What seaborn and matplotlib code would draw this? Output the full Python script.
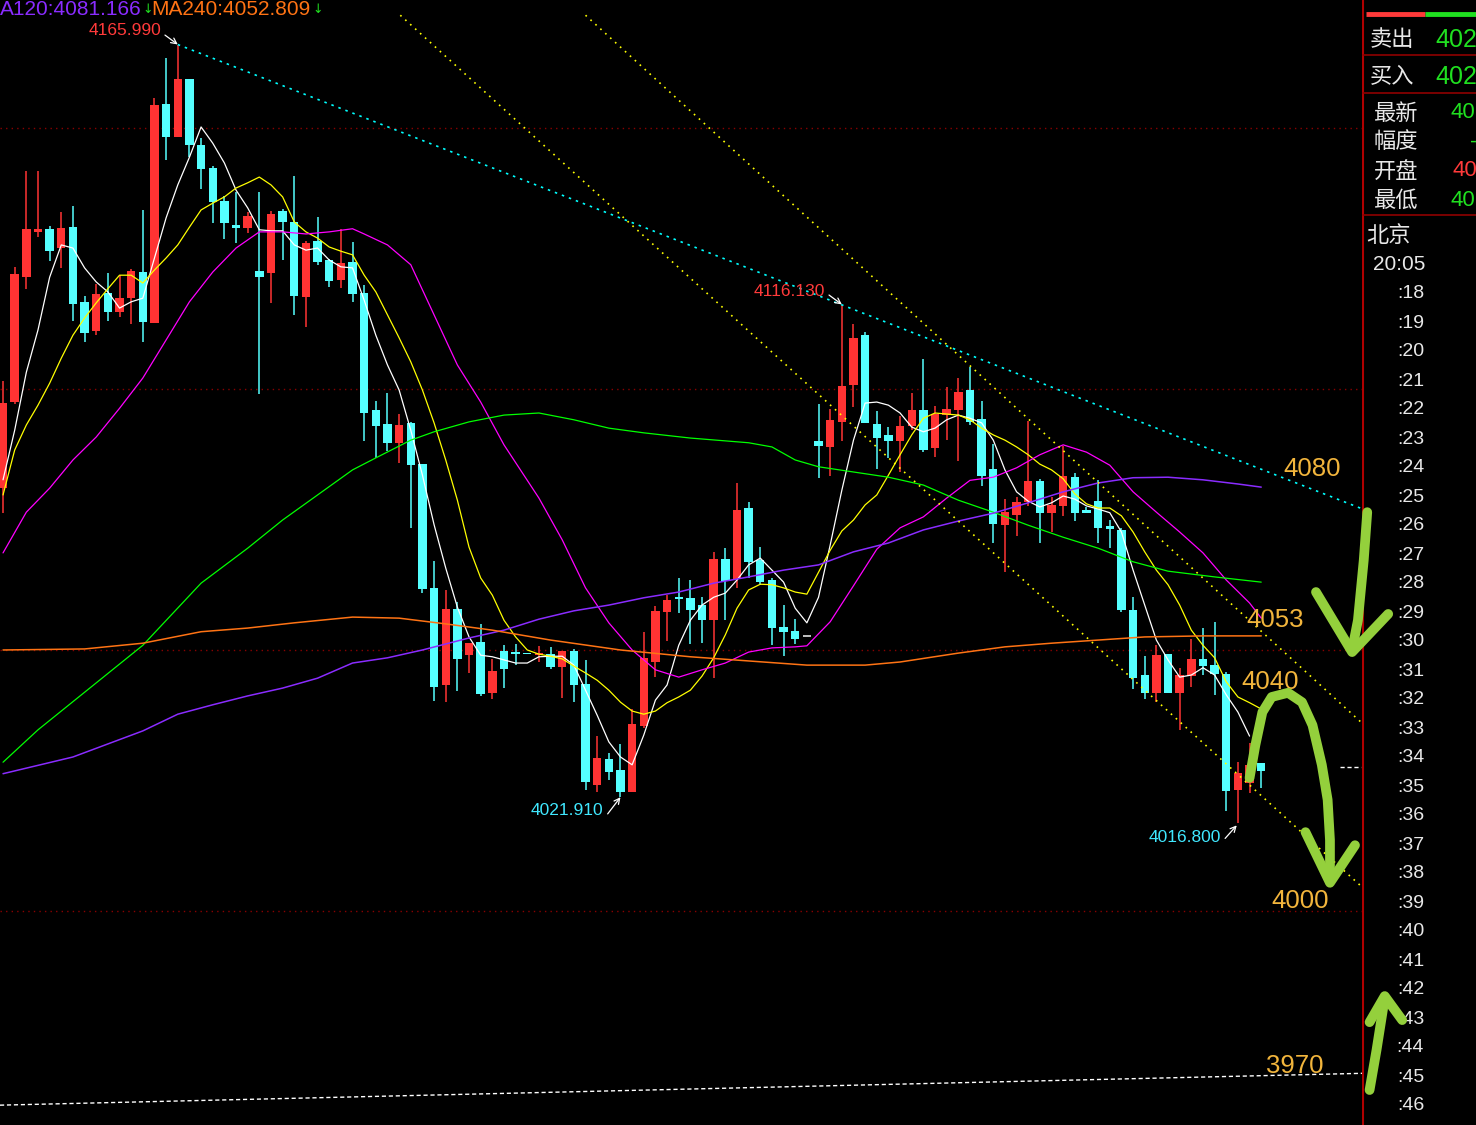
import numpy as np
import pandas as pd
import matplotlib
matplotlib.use("Agg")
import matplotlib.pyplot as plt
import seaborn as sns

sns.set_theme(style="dark", rc={"axes.facecolor": "black", "figure.facecolor": "black"})
plt.rcParams['font.family'] = ['Noto Sans CJK SC', 'DejaVu Sans']

# candle data
opens = [4081.0, 4097.5, 4121.5, 4130.1, 4130.7, 4127.0, 4131.0, 4116.7, 4111.1, 4118.4,
         4114.8, 4117.4, 4122.4, 4112.6, 4154.6, 4148.3, 4159.4, 4146.7, 4142.3, 4136.0,
         4131.4, 4130.8, 4122.6, 4122.2, 4134.1, 4132.0, 4117.6, 4128.4, 4124.7, 4120.9,
         4124.3, 4118.4, 4096.0, 4093.3, 4089.6, 4093.5, 4085.6, 4061.9, 4043.3, 4057.9,
         4049.0, 4051.5, 4041.8, 4049.8, 4049.6, 4049.4, 4049.0, 4049.2, 4046.7, 4049.8,
         4043.5, 4024.1, 4029.1, 4027.0, 4022.8, 4035.4, 4047.7, 4057.3, 4060.1, 4059.9,
         4058.6, 4055.7, 4067.4, 4063.6, 4077.2, 4067.2, 4063.4, 4054.4, 4053.6, 4052.5,
         4090.0, 4088.9, 4093.7, 4100.8, 4110.3, 4093.3, 4091.2, 4090.0, 4092.9, 4096.0,
         4088.7, 4095.0, 4096.0, 4099.8, 4094.3, 4084.7, 4073.9, 4075.9, 4078.3, 4082.4,
         4076.3, 4077.6, 4083.1, 4076.8, 4078.5, 4073.8, 4073.0, 4057.7, 4045.2, 4041.8,
         4049.2, 4041.8, 4045.0, 4048.3, 4047.1, 4045.4, 4023.2, 4024.5, 4028.3]
highs = [4101.5, 4123.4, 4141.8, 4141.8, 4131.2, 4133.9, 4135.1, 4117.8, 4120.1, 4122.2,
         4121.8, 4123.0, 4134.3, 4155.7, 4163.4, 4165.99, 4159.4, 4148.1, 4142.7, 4137.0,
         4137.7, 4133.9, 4137.7, 4134.1, 4134.5, 4140.8, 4128.4, 4132.9, 4124.9, 4130.7,
         4128.2, 4119.9, 4097.7, 4099.2, 4095.2, 4093.7, 4085.6, 4067.0, 4061.5, 4059.2,
         4051.3, 4055.0, 4048.3, 4050.9, 4051.1, 4049.4, 4050.8, 4050.6, 4049.8, 4050.2,
         4048.1, 4033.5, 4030.3, 4032.0, 4038.7, 4053.4, 4058.4, 4060.5, 4063.8, 4063.4,
         4060.1, 4068.8, 4069.5, 4082.0, 4078.4, 4069.7, 4063.8, 4058.6, 4055.9, 4052.5,
         4097.1, 4096.2, 4116.13, 4112.5, 4110.9, 4095.8, 4092.7, 4094.8, 4099.2, 4105.7,
         4096.7, 4100.4, 4102.1, 4104.2, 4097.7, 4089.5, 4078.9, 4079.3, 4093.9, 4082.8,
         4079.3, 4089.1, 4083.9, 4077.4, 4082.6, 4074.9, 4073.4, 4060.1, 4048.8, 4050.9,
         4049.2, 4046.6, 4052.1, 4054.2, 4055.4, 4045.8, 4028.5, 4032.2, 4028.3]
lows = [4076.3, 4097.1, 4119.2, 4129.1, 4124.5, 4123.2, 4113.0, 4109.0, 4110.3, 4113.0,
        4113.8, 4112.5, 4109.0, 4112.6, 4143.9, 4148.3, 4144.4, 4138.3, 4131.8, 4128.7,
        4128.0, 4129.9, 4099.0, 4116.5, 4124.7, 4114.2, 4111.9, 4123.8, 4119.5, 4119.3,
        4116.7, 4090.0, 4086.8, 4088.1, 4085.8, 4073.4, 4060.9, 4040.2, 4040.0, 4042.1,
        4045.6, 4041.2, 4040.6, 4042.7, 4047.1, 4049.2, 4047.7, 4046.4, 4040.8, 4040.0,
        4023.2, 4022.8, 4025.1, 4021.91, 4022.8, 4035.1, 4044.8, 4051.7, 4057.1, 4051.1,
        4051.3, 4044.6, 4055.7, 4061.9, 4063.8, 4062.5, 4050.9, 4048.8, 4051.1, 4052.5,
        4083.0, 4083.3, 4090.0, 4096.5, 4093.5, 4084.7, 4086.8, 4084.1, 4092.1, 4087.9,
        4087.0, 4090.2, 4086.2, 4093.1, 4081.4, 4070.5, 4064.9, 4071.8, 4077.6, 4070.5,
        4072.6, 4075.7, 4074.7, 4076.3, 4070.5, 4069.5, 4057.3, 4042.5, 4040.6, 4040.0,
        4041.8, 4034.7, 4042.9, 4045.2, 4041.4, 4019.1, 4016.8, 4022.6, 4023.5]
closes = [4097.3, 4122.0, 4130.7, 4130.7, 4126.4, 4130.8, 4116.3, 4110.7, 4118.2, 4114.8,
          4117.4, 4122.6, 4112.8, 4154.4, 4148.3, 4159.4, 4146.7, 4142.1, 4135.8, 4131.8,
          4130.8, 4133.1, 4121.5, 4133.5, 4132.0, 4117.8, 4128.0, 4124.3, 4120.7, 4124.1,
          4118.2, 4095.4, 4092.9, 4089.6, 4093.1, 4085.4, 4061.7, 4042.9, 4057.9, 4048.3,
          4051.3, 4041.6, 4046.0, 4046.4, 4049.2, 4049.2, 4049.4, 4046.7, 4049.8, 4043.3,
          4024.7, 4029.3, 4026.6, 4022.8, 4035.8, 4048.5, 4057.5, 4059.6, 4059.8, 4057.7,
          4055.7, 4067.4, 4063.2, 4076.8, 4066.9, 4063.0, 4054.2, 4053.4, 4052.1, 4052.5,
          4089.1, 4094.1, 4100.6, 4109.8, 4093.5, 4090.6, 4090.0, 4092.9, 4096.0, 4088.3,
          4095.2, 4096.2, 4099.4, 4093.7, 4083.3, 4074.1, 4076.4, 4078.3, 4082.4, 4076.3,
          4077.8, 4083.3, 4076.3, 4076.3, 4073.4, 4073.2, 4057.7, 4044.6, 4041.8, 4049.0,
          4041.8, 4045.2, 4048.3, 4046.9, 4045.4, 4023.0, 4026.4, 4027.9, 4026.8]

# moving averages as drawn on screen
ma5 = [4082.6, 4092.1, 4103.2, 4111.3, 4121.4, 4127.6, 4127.0, 4123.2, 4120.5, 4118.6,
       4115.5, 4116.7, 4117.4, 4125.1, 4132.8, 4139.1, 4144.4, 4150.2, 4147.1, 4143.3,
       4138.1, 4134.7, 4130.5, 4130.3, 4130.3, 4127.6, 4126.6, 4127.0, 4124.7, 4123.4,
       4123.2, 4117.0, 4110.3, 4104.6, 4099.8, 4092.1, 4083.5, 4074.0, 4065.7, 4058.2,
       4052.5, 4049.0, 4048.7, 4048.1, 4047.5, 4047.5, 4048.7, 4048.8, 4048.8, 4047.1,
       4042.3, 4037.5, 4032.4, 4029.5, 4028.0, 4033.7, 4040.4, 4043.3, 4050.9, 4055.7,
       4058.6, 4060.1, 4060.9, 4063.4, 4066.3, 4067.6, 4065.3, 4063.0, 4058.0, 4055.2,
       4060.1, 4070.1, 4080.6, 4090.2, 4097.3, 4097.5, 4096.9, 4095.4, 4092.7, 4091.8,
       4092.5, 4094.1, 4095.0, 4094.4, 4093.5, 4090.2, 4084.5, 4080.3, 4078.5, 4077.4,
       4078.2, 4079.5, 4078.9, 4077.6, 4077.0, 4076.3, 4072.6, 4065.3, 4058.6, 4051.9,
       4048.1, 4044.8, 4045.2, 4046.6, 4045.2, 4041.4, 4038.1, 4033.5]
ma10 = [4079.7, 4088.3, 4093.1, 4096.9, 4101.1, 4105.9, 4110.3, 4113.6, 4116.5, 4119.2,
        4121.8, 4121.8, 4120.3, 4122.8, 4125.1, 4127.6, 4131.0, 4134.3, 4135.6, 4136.8,
        4138.5, 4139.5, 4140.6, 4139.1, 4136.8, 4132.0, 4130.1, 4128.9, 4127.2, 4126.4,
        4125.7, 4121.8, 4118.6, 4114.2, 4109.8, 4105.2, 4099.8, 4093.5, 4086.4, 4078.7,
        4069.7, 4063.8, 4060.5, 4055.7, 4052.5, 4050.0, 4049.2, 4048.8, 4048.3, 4046.9,
        4045.6, 4044.2, 4042.3, 4040.0, 4038.3, 4037.7, 4038.3, 4039.9, 4041.0, 4042.3,
        4045.0, 4048.5, 4052.9, 4058.0, 4061.5, 4062.6, 4062.5, 4061.9, 4061.1, 4060.7,
        4064.9, 4069.1, 4072.8, 4074.9, 4077.8, 4079.7, 4083.5, 4087.4, 4091.2, 4094.4,
        4095.4, 4095.2, 4095.0, 4094.1, 4092.5, 4091.2, 4090.2, 4088.9, 4087.4, 4085.6,
        4084.5, 4082.8, 4079.9, 4078.0, 4077.2, 4077.2, 4075.7, 4072.6, 4068.8, 4065.3,
        4062.5, 4058.6, 4053.8, 4050.9, 4048.5, 4043.9, 4041.0, 4039.9, 4038.7]
ma20_idx = [0, 2, 4, 6, 8, 10, 12, 14, 16, 18, 20, 22, 24, 26, 28, 30, 31, 33, 35, 37, 39,
            41, 43, 46, 48, 50, 52, 54, 56, 58, 60, 62, 64, 66, 68, 69, 71, 73, 75, 77, 79,
            81, 83, 85, 87, 89, 91, 93, 95, 97, 99, 101, 103, 105, 107, 108]
ma20_val = [4068.6, 4076.4, 4081.0, 4086.4, 4090.8, 4096.3, 4102.1, 4109.4, 4116.7, 4122.4,
            4127.0, 4130.1, 4130.1, 4129.7, 4130.1, 4130.7, 4129.7, 4127.6, 4123.8, 4114.2,
            4104.6, 4097.5, 4089.3, 4079.1, 4071.1, 4061.9, 4055.2, 4050.0, 4046.2, 4044.8,
            4046.2, 4047.5, 4049.6, 4050.4, 4050.6, 4050.8, 4055.4, 4062.3, 4069.3, 4073.4,
            4075.5, 4079.1, 4082.5, 4083.1, 4084.9, 4087.4, 4089.3, 4087.9, 4085.4, 4080.3,
            4076.4, 4072.6, 4068.6, 4063.4, 4059.0, 4056.1]
ma60_idx = [0, 3, 7, 12, 17, 21, 24, 27, 30, 32, 35, 37, 40, 43, 46, 49, 52, 55, 59, 64,
            66, 68, 70, 73, 76, 79, 82, 85, 88, 91, 94, 97, 100, 104, 108]
ma60_val = [4028.5, 4034.7, 4041.9, 4050.9, 4062.8, 4069.5, 4074.9, 4079.7, 4084.5, 4086.8,
            4090.2, 4091.8, 4093.7, 4095.0, 4095.4, 4094.1, 4092.5, 4091.6, 4090.6, 4089.7,
            4088.9, 4086.4, 4085.1, 4084.1, 4083.1, 4081.6, 4078.7, 4076.4, 4073.9, 4071.6,
            4069.5, 4066.9, 4065.1, 4064.0, 4063.0]
ma120_idx = [0, 6, 12, 15, 18, 21, 24, 27, 30, 33, 36, 40, 43, 46, 49, 52, 55, 58, 61, 64,
             67, 70, 73, 76, 79, 82, 85, 88, 91, 94, 97, 100, 103, 106, 108]
ma120_val = [4026.3, 4029.5, 4034.5, 4037.7, 4039.5, 4041.2, 4042.7, 4044.6, 4047.5, 4048.5,
             4050.0, 4052.3, 4053.8, 4055.9, 4057.5, 4058.6, 4060.0, 4061.1, 4062.8, 4064.0,
             4065.3, 4066.3, 4068.8, 4070.5, 4073.0, 4074.7, 4076.2, 4078.2, 4080.3, 4082.0,
             4083.0, 4083.1, 4082.6, 4081.8, 4081.2]
ma240_idx = [0, 7, 12, 17, 21, 25, 30, 34, 38, 42, 47, 53, 59, 64, 69, 74, 77, 82, 86, 90,
             94, 98, 103, 108]
ma240_val = [4050.0, 4050.2, 4051.3, 4053.5, 4054.2, 4055.2, 4056.3, 4056.1, 4055.0, 4053.8,
             4051.9, 4050.0, 4048.7, 4047.9, 4047.1, 4047.1, 4047.7, 4049.4, 4050.6, 4051.3,
             4051.9, 4052.5, 4052.7, 4052.7]

grid_levels = [4150, 4100, 4050, 4000]

# hand drawn trend lines (index, price)
cyan_line = ([15, 116.6], [4165.99, 4077.1])
yellow_line1 = ([34.1, 116.65], [4171.6, 4004.6])
yellow_line2 = ([50.0, 116.65], [4171.6, 4036.0])
white_dash = ([-0.26, 116.65], [3962.8, 3968.9])
last_price = 4027.6

level_text = ['4080', '4053', '4040', '4000', '3970']
level_x = [112.4, 109.2, 108.8, 111.3, 110.9]
level_y = [4084.7, 4055.7, 4043.9, 4001.9, 3970.3]

# extreme point labels: text, text pos, arrow start, arrow tip, colour
extremes = [
    ('4165.990', (10.5, 4168.6), (13.9, 4167.8), (15.0, 4166.0), '#ff3a3a'),
    ('4116.130', (67.5, 4118.6), (70.9, 4118.0), (72.0, 4116.2), '#ff3a3a'),
    ('4021.910', (48.4, 4019.2), (51.9, 4018.6), (53.0, 4021.8), '#40e8ff'),
    ('4016.800', (101.4, 4014.0), (104.9, 4013.9), (105.9, 4016.4), '#40e8ff'),
]

# green marker strokes drawn over the screenshot
green_strokes = [
    ([117.1, 116.8, 116.3, 115.8], [4076.4, 4067.2, 4055.7, 4050.0]),
    ([112.7, 115.8, 118.9], [4061.1, 4049.6, 4056.9]),
    ([107.0, 107.5, 108.1, 108.9, 110.3, 111.5, 112.4, 113.2, 113.7, 113.9, 113.9],
     [4025.5, 4031.8, 4038.1, 4041.0, 4041.8, 4040.0, 4035.6, 4028.0, 4021.3, 4013.6, 4006.0]),
    ([111.8, 113.9, 116.05], [4015.1, 4005.4, 4012.6]),
    ([117.3, 117.9, 118.6], [3965.7, 3973.4, 3983.3]),
    ([117.3, 118.6, 120.1], [3978.7, 3983.7, 3979.1]),
]

W, H = 1476, 1125
fig = plt.figure(figsize=(W / 100, H / 100), dpi=100)
fig.patch.set_facecolor('black')

# right info panel (pixel space)
pan = fig.add_axes([1362 / W, 0, (W - 1362) / W, 1])
pan.set_xlim(1362, W)
pan.set_ylim(H, 0)
pan.axis('off')
pan.set_zorder(1)

ax = fig.add_axes([0, 0, 1362 / W, 1])
ax.set_xlim(-0.26, 116.65)
ax.set_ylim(3959.0, 4174.52)
ax.axis('off')
ax.set_zorder(2)

for lvl in grid_levels:
    ax.axhline(lvl, color='#8a0000', ls=(0, (1, 3)), lw=1.0, zorder=1)

df = pd.DataFrame({'o': opens, 'h': highs, 'l': lows, 'c': closes})
df['idx'] = np.arange(len(df))
df['col'] = np.where(df.c > df.o, '#ff3333', np.where(df.c < df.o, '#55ffff', '#bbbbbb'))
ax.vlines(df.idx, df.l, df.h, colors=df.col, lw=1.1, zorder=2)
ax.bar(df.idx, np.maximum((df.c - df.o).abs(), 0.3), bottom=np.minimum(df.o, df.c),
       width=0.72, color=df.col, linewidth=0, zorder=3)

# moving averages
sns.lineplot(x=np.arange(len(ma5)), y=ma5, ax=ax, color='white', lw=0.9, estimator=None, sort=False, zorder=4)
sns.lineplot(x=np.arange(len(ma10)), y=ma10, ax=ax, color='#ffff00', lw=0.9, estimator=None, sort=False, zorder=4)
sns.lineplot(x=ma20_idx, y=ma20_val, ax=ax, color='#ff00ff', lw=0.9, estimator=None, sort=False, zorder=4)
sns.lineplot(x=ma60_idx, y=ma60_val, ax=ax, color='#00ff00', lw=0.9, estimator=None, sort=False, zorder=4)
sns.lineplot(x=ma120_idx, y=ma120_val, ax=ax, color='#8a2cff', lw=1.1, estimator=None, sort=False, zorder=4)
sns.lineplot(x=ma240_idx, y=ma240_val, ax=ax, color='#ff7314', lw=1.1, estimator=None, sort=False, zorder=4)

# trend lines
ax.plot(*cyan_line, color='#00ffff', ls=(0, (1.5, 3)), lw=1.2, zorder=5)
ax.plot(*yellow_line1, color='#ffff00', ls=(0, (1, 3)), lw=1.2, zorder=5)
ax.plot(*yellow_line2, color='#ffff00', ls=(0, (1, 3)), lw=1.2, zorder=5)
ax.plot(*white_dash, color='white', ls=(0, (3, 2)), lw=1.0, zorder=5)
ax.plot([114.8, 116.6], [last_price, last_price], color='white', ls=(0, (3, 2)), lw=1.0, zorder=5)

for t, x, y in zip(level_text, level_x, level_y):
    ax.text(x, y, t, color='#f2b53c', fontsize=18.5, family='Liberation Sans',
            ha='center', va='center', zorder=6)

for t, tpos, a0, a1, c in extremes:
    ax.text(*tpos, t, color=c, fontsize=12.5, family='Liberation Sans', ha='center', va='center', zorder=6)
    ax.annotate('', xy=a1, xytext=a0,
                arrowprops=dict(arrowstyle='->', color='white', lw=0.9, mutation_scale=10,
                                shrinkA=0, shrinkB=0), zorder=6)

for xs, ys in green_strokes:
    ax.plot(xs, ys, color='#94d03c', lw=7, solid_capstyle='round', solid_joinstyle='round',
            clip_on=False, zorder=8)

# header (left edge of the screenshot crops the leading "M")
fig.text(0, 1 - 15 / H, 'A120:4081.166', color='#8a2cff', fontsize=15,
         family='Liberation Sans', ha='left', va='baseline')
fig.text(142 / W, 1 - 13 / H, '↓', color='#20e020', fontsize=9, family='DejaVu Sans', ha='left', va='baseline')
fig.text(151 / W, 1 - 15 / H, 'MA240:4052.809', color='#ff7314', fontsize=15,
         family='Liberation Sans', ha='left', va='baseline')
fig.text(312 / W, 1 - 13 / H, '↓', color='#20e020', fontsize=9, family='DejaVu Sans', ha='left', va='baseline')

# panel frame
pan.axvline(1363, color='#b00000', lw=1.5)
for yy in [55, 93, 215]:
    pan.plot([1363, W], [yy, yy], color='#900000', lw=1.2)
pan.plot([1366, 1425], [14, 14], color='#ff3a3a', lw=3.5, solid_capstyle='butt')
pan.plot([1425, W], [14, 14], color='#20e020', lw=3.5, solid_capstyle='butt')

cjk = ['Noto Sans CJK SC', 'DejaVu Sans']
panel_rows = [('卖出', 1370, 40, '402', 1435, '#20e020', 18),
              ('买入', 1370, 77, '402', 1435, '#20e020', 18),
              ('最新', 1374, 113, '40', 1450, '#20e020', 16),
              ('幅度', 1374, 142, '-', 1470, '#20e020', 16),
              ('开盘', 1374, 171, '40', 1452, '#ff3a3a', 16),
              ('最低', 1374, 200, '40', 1450, '#20e020', 16)]
for lab, lx, ly, val, vx, vc, vs in panel_rows:
    pan.text(lx, ly, lab, color='#e8e8e8', fontsize=16, family=cjk, ha='left', va='center')
    pan.text(vx, ly, val, color=vc, fontsize=vs, family='Liberation Sans', ha='left', va='center')
pan.text(1366, 236, '北京', color='#e8e8e8', fontsize=16, family=cjk, ha='left', va='center')
pan.text(1373, 265, '20:05', color='#e8e8e8', fontsize=15, family='Liberation Sans', ha='left', va='center')

time_labels = [':%d' % m for m in range(18, 47)]
for k, lab in enumerate(time_labels):
    pan.text(1424, 294 + 29 * k, lab, color='#e8e8e8', fontsize=14, family='Liberation Sans',
             ha='right', va='center')

fig.savefig('out.png', dpi=100, facecolor='black')
